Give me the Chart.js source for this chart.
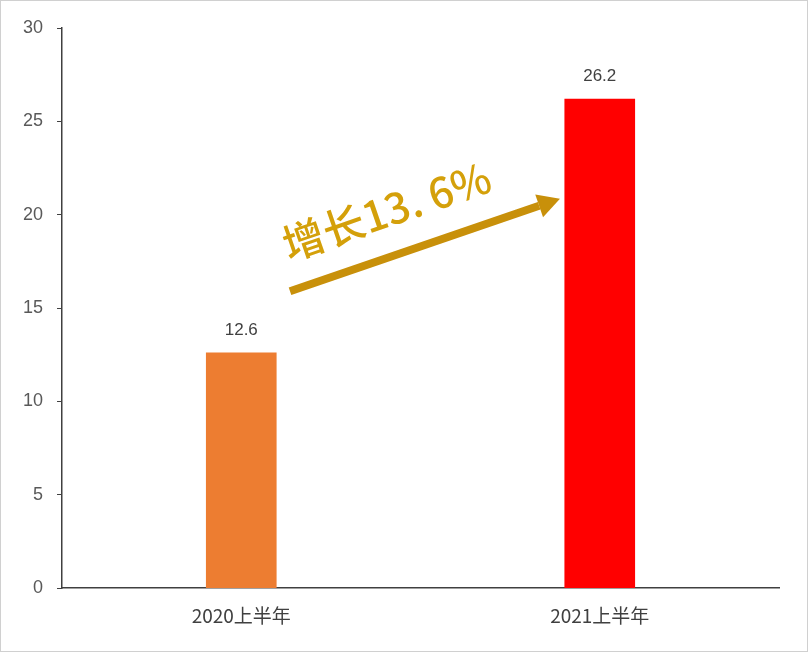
<!DOCTYPE html>
<html><head><meta charset="utf-8">
<script src="https://cdn.jsdelivr.net/npm/chart.js@4"></script>
<style>html,body{margin:0;padding:0;background:#fff}#w{width:806px;height:650px;border:1px solid #d0d0d0;position:relative}</style>
</head><body><div id="w"><canvas id="c"></canvas></div>
<script>
const categories=['2020上半年','2021上半年'];
const values=[12.6,26.2];
const barColors=['#ED7D31','#FF0000'];
const annotationText='增长13. 6%';
const arrowPlugin={id:'arrow',afterDatasetsDraw(ch){
 const x=ch.scales.x,y=ch.scales.y,ctx=ch.ctx;
 const x1=x.getPixelForValue(0.136),y1=y.getPixelForValue(15.9);
 const x2=x.getPixelForValue(0.889),y2=y.getPixelForValue(20.86);
 const a=Math.atan2(y2-y1,x2-x1);
 ctx.save();ctx.strokeStyle='#C8900A';ctx.fillStyle='#C8900A';ctx.lineWidth=8;
 const hx=x2-22*Math.cos(a),hy=y2-22*Math.sin(a);
 ctx.beginPath();ctx.moveTo(x1,y1);ctx.lineTo(hx,hy);ctx.stroke();
 ctx.beginPath();ctx.moveTo(x2,y2);
 ctx.lineTo(hx+12*Math.sin(a),hy-12*Math.cos(a));ctx.lineTo(hx-12*Math.sin(a),hy+12*Math.cos(a));ctx.closePath();ctx.fill();
 const tx=x.getPixelForValue(0.405),ty=y.getPixelForValue(20.2);
 ctx.translate(tx,ty);ctx.rotate(-19*Math.PI/180);
 ctx.font='500 42px "Noto Sans CJK SC"';ctx.textAlign='center';ctx.textBaseline='middle';
 ctx.fillStyle='#D4A00A';ctx.fillText(annotationText,0,0);ctx.restore();
 ctx.save();ctx.font='17px "Liberation Sans"';ctx.fillStyle='#404040';ctx.textAlign='center';
 ch.getDatasetMeta(0).data.forEach((b,i)=>ctx.fillText(values[i],b.x,b.y-18));ctx.restore();
}};
new Chart(document.getElementById('c'),{type:'bar',
 data:{labels:categories,datasets:[{data:values,backgroundColor:barColors,barThickness:70}]},
 options:{responsive:true,maintainAspectRatio:false,animation:false,
  layout:{padding:{top:27,right:28,left:8,bottom:16}},
  plugins:{legend:{display:false},tooltip:{enabled:false}},
  scales:{
   x:{grid:{display:false},border:{color:'#404040',width:1.5},ticks:{color:'#404040',font:{size:19,family:'"Noto Sans CJK SC"'},padding:8}},
   y:{min:0,max:30,grid:{drawOnChartArea:false,tickLength:5,color:'#404040'},border:{color:'#404040',width:1.5},
      ticks:{stepSize:5,color:'#595959',font:{size:18,family:'"Liberation Sans"'},padding:14}}
  }},plugins:[arrowPlugin]});
</script></body></html>
